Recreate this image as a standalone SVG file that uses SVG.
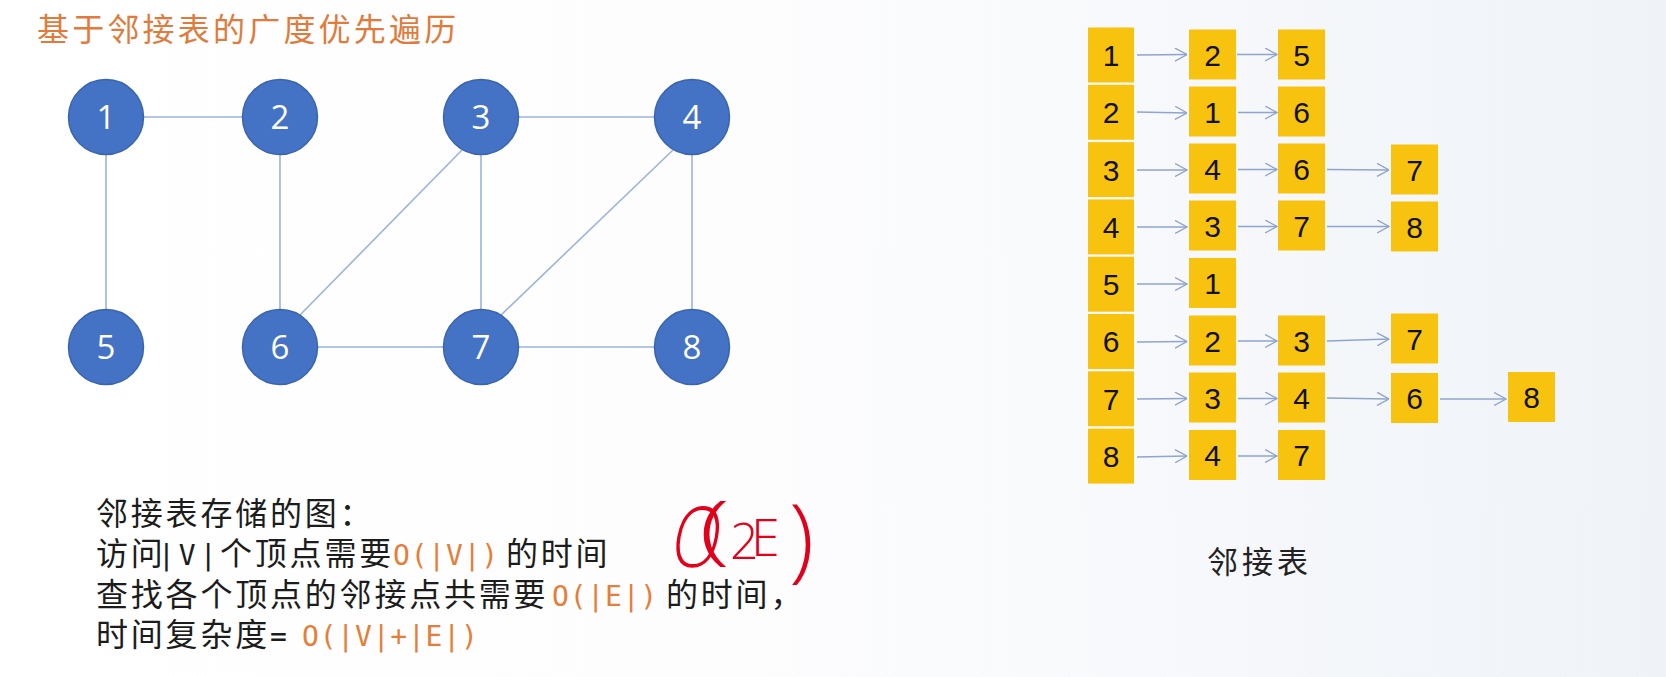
<svg xmlns="http://www.w3.org/2000/svg" width="1666" height="677" viewBox="0 0 1666 677">
<defs>
<linearGradient id="bg" x1="0" y1="0" x2="1" y2="0">
<stop offset="0" stop-color="#ffffff"/>
<stop offset="0.45" stop-color="#fdfdfe"/>
<stop offset="1" stop-color="#eff3f8"/>
</linearGradient>
<marker id="ah" viewBox="0 0 13 14" refX="12.5" refY="7" markerWidth="13" markerHeight="14" markerUnits="userSpaceOnUse" orient="auto">
<path d="M0.5,0.5 L12.5,7 L0.5,13.5" fill="none" stroke="#8fa4cf" stroke-width="1.4"/>
</marker>
<style>
.cjk{font-family:"Noto Sans CJK SC",sans-serif;font-size:32px;fill:#1c1c1c;letter-spacing:2.8px}
.mono{font-family:"DejaVu Sans Mono",monospace;font-size:28px;letter-spacing:0.8px}
.or{fill:#e67e3a}
.bk{fill:#1c1c1c}
.node circle{fill:#4472c4;stroke:#3a64b0;stroke-width:1.5}
.node text{font-family:"Open Sans","Liberation Sans",sans-serif;font-size:33px;fill:#ffffff;text-anchor:middle}
.edge{stroke:#9db3dd;stroke-width:1.6;fill:none}
.cell rect{fill:#f8c30f}
.cell text{font-family:"Liberation Sans",sans-serif;font-size:30px;fill:#111111;text-anchor:middle}
.arr{stroke:#8fa4cf;stroke-width:1.4;fill:none;marker-end:url(#ah)}
.hw{font-family:"Open Sans",sans-serif;font-weight:300;fill:#e3001b}
</style>
</defs>
<rect x="0" y="0" width="1666" height="677" fill="url(#bg)"/>

<text id="title" x="37" y="41" style="font-family:'Noto Sans CJK SC',sans-serif;font-size:32px;fill:#e07b3c;letter-spacing:3.2px">基于邻接表的广度优先遍历</text>

<g id="graph-edges">
<line class="edge" x1="144" y1="117" x2="242" y2="117"/>
<line class="edge" x1="106" y1="155" x2="106" y2="309"/>
<line class="edge" x1="280" y1="155" x2="280" y2="309"/>
<line class="edge" x1="519" y1="117" x2="654" y2="117"/>
<line class="edge" x1="481" y1="155" x2="481" y2="309"/>
<line class="edge" x1="462" y1="150" x2="300" y2="315"/>
<line class="edge" x1="673" y1="150" x2="501" y2="315"/>
<line class="edge" x1="692" y1="155" x2="692" y2="309"/>
<line class="edge" x1="318" y1="347" x2="443" y2="347"/>
<line class="edge" x1="519" y1="347" x2="654" y2="347"/>
</g>

<g id="n1" class="node"><circle cx="106" cy="117" r="37.5"/><text x="106" y="129">1</text></g>
<g id="n2" class="node"><circle cx="280" cy="117" r="37.5"/><text x="280" y="129">2</text></g>
<g id="n3" class="node"><circle cx="481" cy="117" r="37.5"/><text x="481" y="129">3</text></g>
<g id="n4" class="node"><circle cx="692" cy="117" r="37.5"/><text x="692" y="129">4</text></g>
<g id="n5" class="node"><circle cx="106" cy="347" r="37.5"/><text x="106" y="359">5</text></g>
<g id="n6" class="node"><circle cx="280" cy="347" r="37.5"/><text x="280" y="359">6</text></g>
<g id="n7" class="node"><circle cx="481" cy="347" r="37.5"/><text x="481" y="359">7</text></g>
<g id="n8" class="node"><circle cx="692" cy="347" r="37.5"/><text x="692" y="359">8</text></g>

<g id="desc">
<text class="cjk" x="96" y="525">邻接表存储的图：</text>
<text class="cjk" y="565"><tspan x="96">访问</tspan><tspan class="mono bk" x="158" style="letter-spacing:4px">|V|</tspan><tspan x="220">个顶点需要</tspan><tspan class="mono or" x="393">O(|V|)</tspan><tspan x="506">的时间</tspan></text>
<text class="cjk" y="606"><tspan x="96">查找各个顶点的邻接点共需要</tspan><tspan class="mono or" x="552">O(|E|)</tspan><tspan x="666">的时间，</tspan></text>
<text class="cjk" y="646"><tspan x="96">时间复杂度</tspan><tspan class="mono bk" x="270">=</tspan><tspan class="mono or" x="302">O(|V|+|E|)</tspan></text>
</g>

<g id="note">
<text class="hw" font-size="84" transform="translate(668,567) skewX(-10) scale(0.76,1)">O</text>
<text class="hw" font-size="76" transform="translate(699,555) scale(1.5,1)">(</text>
<text class="hw" font-size="50" x="730" y="559">2</text>
<text class="hw" font-size="52" x="751" y="556">E</text>
<text class="hw" font-size="92" x="789" y="570">)</text>
</g>

<g id="adj-head">
<g id="h1" class="cell"><rect x="1088" y="27.5" width="46" height="55"/><text x="1111" y="66">1</text></g>
<g id="h2" class="cell"><rect x="1088" y="84.8" width="46" height="55"/><text x="1111" y="123">2</text></g>
<g id="h3" class="cell"><rect x="1088" y="142.1" width="46" height="55"/><text x="1111" y="181">3</text></g>
<g id="h4" class="cell"><rect x="1088" y="199.4" width="46" height="55"/><text x="1111" y="238">4</text></g>
<g id="h5" class="cell"><rect x="1088" y="256.7" width="46" height="55"/><text x="1111" y="295">5</text></g>
<g id="h6" class="cell"><rect x="1088" y="314" width="46" height="55"/><text x="1111" y="352">6</text></g>
<g id="h7" class="cell"><rect x="1088" y="371.3" width="46" height="55"/><text x="1111" y="410">7</text></g>
<g id="h8" class="cell"><rect x="1088" y="428.6" width="46" height="55"/><text x="1111" y="467">8</text></g>
</g>

<g id="adj-nodes">
<g id="r1c1" class="cell"><rect x="1189" y="29.5" width="47" height="50"/><text x="1212.5" y="65.5">2</text></g>
<g id="r1c2" class="cell"><rect x="1278" y="29.5" width="47" height="50"/><text x="1301.5" y="65.5">5</text></g>
<g id="r2c1" class="cell"><rect x="1189" y="86.5" width="47" height="50"/><text x="1212.5" y="122.5">1</text></g>
<g id="r2c2" class="cell"><rect x="1278" y="86.5" width="47" height="50"/><text x="1301.5" y="122.5">6</text></g>
<g id="r3c1" class="cell"><rect x="1189" y="143.5" width="47" height="50"/><text x="1212.5" y="179.5">4</text></g>
<g id="r3c2" class="cell"><rect x="1278" y="143.5" width="47" height="50"/><text x="1301.5" y="179.5">6</text></g>
<g id="r3c3" class="cell"><rect x="1391" y="144.5" width="47" height="50"/><text x="1414.5" y="180.5">7</text></g>
<g id="r4c1" class="cell"><rect x="1189" y="200.5" width="47" height="50"/><text x="1212.5" y="236.5">3</text></g>
<g id="r4c2" class="cell"><rect x="1278" y="200.5" width="47" height="50"/><text x="1301.5" y="236.5">7</text></g>
<g id="r4c3" class="cell"><rect x="1391" y="201.5" width="47" height="50"/><text x="1414.5" y="237.5">8</text></g>
<g id="r5c1" class="cell"><rect x="1189" y="258" width="47" height="50"/><text x="1212.5" y="294">1</text></g>
<g id="r6c1" class="cell"><rect x="1189" y="315.5" width="47" height="50"/><text x="1212.5" y="351.5">2</text></g>
<g id="r6c2" class="cell"><rect x="1278" y="315.5" width="47" height="50"/><text x="1301.5" y="351.5">3</text></g>
<g id="r6c3" class="cell"><rect x="1391" y="313.5" width="47" height="50"/><text x="1414.5" y="349.5">7</text></g>
<g id="r7c1" class="cell"><rect x="1189" y="372.5" width="47" height="50"/><text x="1212.5" y="408.5">3</text></g>
<g id="r7c2" class="cell"><rect x="1278" y="372.5" width="47" height="50"/><text x="1301.5" y="408.5">4</text></g>
<g id="r7c3" class="cell"><rect x="1391" y="373" width="47" height="50"/><text x="1414.5" y="409">6</text></g>
<g id="r7c4" class="cell"><rect x="1508" y="372" width="47" height="50"/><text x="1531.5" y="408">8</text></g>
<g id="r8c1" class="cell"><rect x="1189" y="430" width="47" height="50"/><text x="1212.5" y="466">4</text></g>
<g id="r8c2" class="cell"><rect x="1278" y="430" width="47" height="50"/><text x="1301.5" y="466">7</text></g>
</g>

<g id="connectors">
<line class="arr" x1="1137" y1="55" x2="1187" y2="54.5"/>
<line class="arr" x1="1237" y1="54.5" x2="1277" y2="54.5"/>
<line class="arr" x1="1137" y1="112" x2="1187" y2="113"/>
<line class="arr" x1="1238" y1="112.5" x2="1277" y2="112.5"/>
<line class="arr" x1="1137" y1="170" x2="1187" y2="170"/>
<line class="arr" x1="1238" y1="169.5" x2="1277" y2="169.5"/>
<line class="arr" x1="1327" y1="169.5" x2="1389" y2="170"/>
<line class="arr" x1="1137" y1="227" x2="1187" y2="227"/>
<line class="arr" x1="1238" y1="226.5" x2="1277" y2="226.5"/>
<line class="arr" x1="1327" y1="226.5" x2="1389" y2="226.5"/>
<line class="arr" x1="1137" y1="284" x2="1187" y2="284"/>
<line class="arr" x1="1137" y1="342" x2="1187" y2="341.5"/>
<line class="arr" x1="1238" y1="341" x2="1277" y2="341"/>
<line class="arr" x1="1327" y1="341" x2="1389" y2="339"/>
<line class="arr" x1="1137" y1="399" x2="1187" y2="398.5"/>
<line class="arr" x1="1238" y1="398.5" x2="1277" y2="398.5"/>
<line class="arr" x1="1327" y1="398" x2="1389" y2="399"/>
<line class="arr" x1="1440" y1="399" x2="1506" y2="399"/>
<line class="arr" x1="1137" y1="457" x2="1187" y2="456"/>
<line class="arr" x1="1238" y1="456" x2="1277" y2="456"/>
</g>

<text id="caption" x="1207" y="573" style="font-family:'Noto Sans CJK SC',sans-serif;font-size:31px;fill:#222222;letter-spacing:4px">邻接表</text>
</svg>
